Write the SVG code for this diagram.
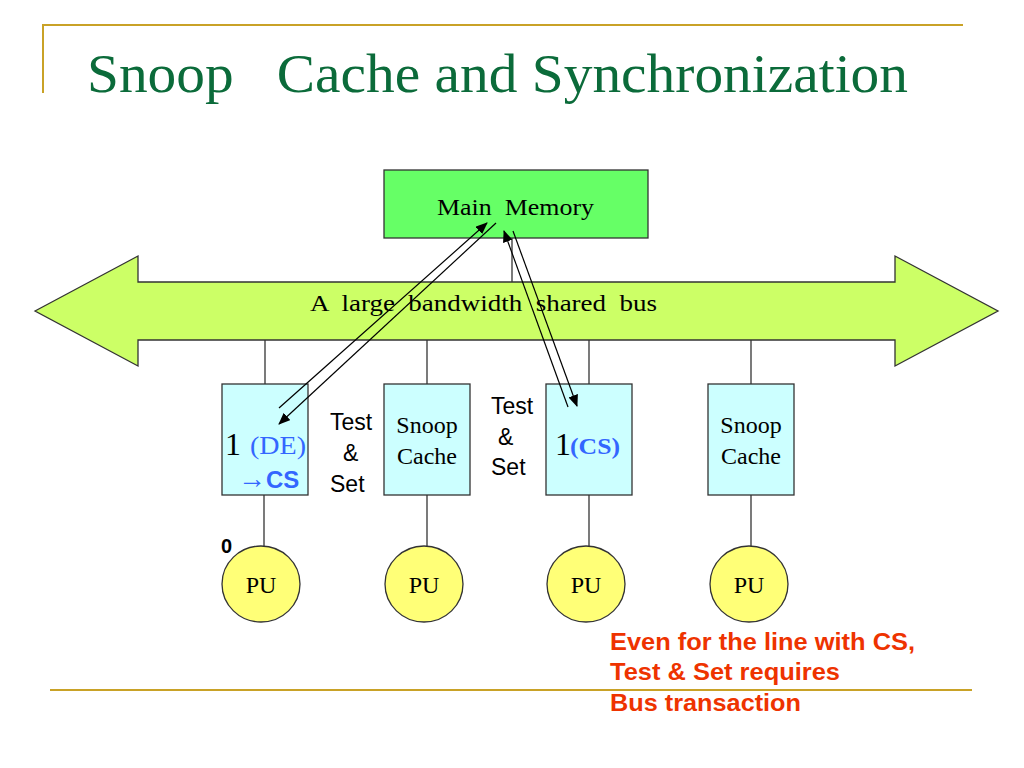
<svg xmlns="http://www.w3.org/2000/svg" width="1024" height="768" viewBox="0 0 1024 768">
<style>
text{white-space:pre}
.serif{font-family:"Liberation Serif","Times New Roman",serif;}
.sans{font-family:"Liberation Sans",Arial,sans-serif;}
.rule{stroke:#c9a227;stroke-width:2;fill:none}
.box{fill:#ccffff;stroke:#333;stroke-width:1.3}
.pu{fill:#ffff77;stroke:#333;stroke-width:1.3}
.wire{stroke:#222;stroke-width:1.2;fill:none}
.arr{stroke:#000;stroke-width:1.2;fill:none;marker-end:url(#ah)}
.lbl{font-size:24px;fill:#000}
.tl{font-size:23px;fill:#000}
.blue{fill:#3366ff}
.red{font-size:24px;font-weight:bold;fill:#ee3300}
</style>
<defs>
<marker id="ah" markerWidth="12" markerHeight="10" refX="11" refY="5" orient="auto" markerUnits="userSpaceOnUse">
<path d="M0,0 L12,5 L0,10 Z" fill="#000"/>
</marker>
</defs>
<rect width="1024" height="768" fill="#fff"/>
<g id="frame">
<line class="rule" x1="42" y1="25" x2="963" y2="25"/>
<line class="rule" x1="43" y1="25" x2="43" y2="93"/>
<line class="rule" x1="50" y1="690" x2="972" y2="690"/>
<text class="serif" x="87" y="92" font-size="54" fill="#0b6b3a" textLength="821" lengthAdjust="spacingAndGlyphs">Snoop   Cache and Synchronization</text>
</g>
<g id="connectors">
<line class="wire" x1="512" y1="238" x2="512" y2="282"/>
<line class="wire" x1="265" y1="340" x2="265" y2="384"/>
<line class="wire" x1="427" y1="340" x2="427" y2="384"/>
<line class="wire" x1="589" y1="340" x2="589" y2="384"/>
<line class="wire" x1="751" y1="340" x2="751" y2="384"/>
<line class="wire" x1="264" y1="495" x2="264" y2="546"/>
<line class="wire" x1="427" y1="495" x2="427" y2="546"/>
<line class="wire" x1="589" y1="495" x2="589" y2="546"/>
<line class="wire" x1="751" y1="495" x2="751" y2="546"/>
</g>
<g id="memory">
<rect x="384" y="170" width="264" height="68" fill="#66ff66" stroke="#333" stroke-width="1.3"/>
<text class="serif lbl" x="437" y="215" textLength="157" lengthAdjust="spacingAndGlyphs">Main  Memory</text>
</g>
<g id="bus">
<polygon points="35,311 138,256 138,282 895,282 895,256 998,311 895,366 895,340 138,340 138,366" fill="#ccff66" stroke="#333" stroke-width="1.3"/>
<text class="serif lbl" x="310" y="311" textLength="347" lengthAdjust="spacingAndGlyphs">A  large  bandwidth  shared  bus</text>
</g>
<g id="cache1">
<rect class="box" x="222" y="384" width="86" height="111"/>
<text class="serif" x="225" y="455" font-size="32" fill="#000">1</text>
<text class="serif blue" x="250" y="454" font-size="25" textLength="56" lengthAdjust="spacingAndGlyphs">(DE)</text>
<text x="238" y="488" font-size="24" class="blue"><tspan class="serif" font-size="28">→</tspan><tspan class="sans" font-weight="bold">CS</tspan></text>
</g>
<g id="cache2">
<rect class="box" x="384" y="384" width="86" height="111"/>
<text class="serif lbl" x="427" y="433" text-anchor="middle">Snoop</text>
<text class="serif lbl" x="427" y="464" text-anchor="middle">Cache</text>
</g>
<g id="cache3">
<rect class="box" x="546" y="384" width="86" height="111"/>
<text class="serif" x="555" y="455" font-size="32" fill="#000">1</text>
<text class="serif blue" x="570" y="454" font-size="24" font-weight="bold" textLength="50" lengthAdjust="spacingAndGlyphs">(CS)</text>
</g>
<g id="cache4">
<rect class="box" x="708" y="384" width="86" height="111"/>
<text class="serif lbl" x="751" y="433" text-anchor="middle">Snoop</text>
<text class="serif lbl" x="751" y="464" text-anchor="middle">Cache</text>
</g>
<g id="testset1">
<text class="sans tl" x="330" y="430">Test</text>
<text class="sans tl" x="343" y="461">&amp;</text>
<text class="sans tl" x="330" y="492">Set</text>
</g>
<g id="testset2">
<text class="sans tl" x="491" y="414">Test</text>
<text class="sans tl" x="498" y="445">&amp;</text>
<text class="sans tl" x="491" y="475">Set</text>
</g>
<g id="pu1"><ellipse class="pu" cx="261" cy="584" rx="39" ry="38"/><text class="serif lbl" x="261" y="593" text-anchor="middle">PU</text></g>
<g id="pu2"><ellipse class="pu" cx="424" cy="584" rx="39" ry="38"/><text class="serif lbl" x="424" y="593" text-anchor="middle">PU</text></g>
<g id="pu3"><ellipse class="pu" cx="586" cy="584" rx="39" ry="38"/><text class="serif lbl" x="586" y="593" text-anchor="middle">PU</text></g>
<g id="pu4"><ellipse class="pu" cx="749" cy="584" rx="39" ry="38"/><text class="serif lbl" x="749" y="593" text-anchor="middle">PU</text></g>
<g id="zero"><text class="sans" x="221" y="553" font-size="20" font-weight="bold" fill="#000">0</text></g>
<g id="transactions">
<line class="arr" x1="279" y1="408" x2="487" y2="223"/>
<line class="arr" x1="496" y1="223" x2="279" y2="424"/>
<line class="arr" x1="568" y1="407" x2="504" y2="231"/>
<line class="arr" x1="513" y1="231" x2="577" y2="406"/>
</g>
<g id="note">
<text class="sans red" x="610" y="650" textLength="305" lengthAdjust="spacingAndGlyphs">Even for the line with CS,</text>
<text class="sans red" x="610" y="680" textLength="230" lengthAdjust="spacingAndGlyphs">Test &amp; Set requires</text>
<text class="sans red" x="610" y="711" textLength="191" lengthAdjust="spacingAndGlyphs">Bus transaction</text>
</g>
</svg>
